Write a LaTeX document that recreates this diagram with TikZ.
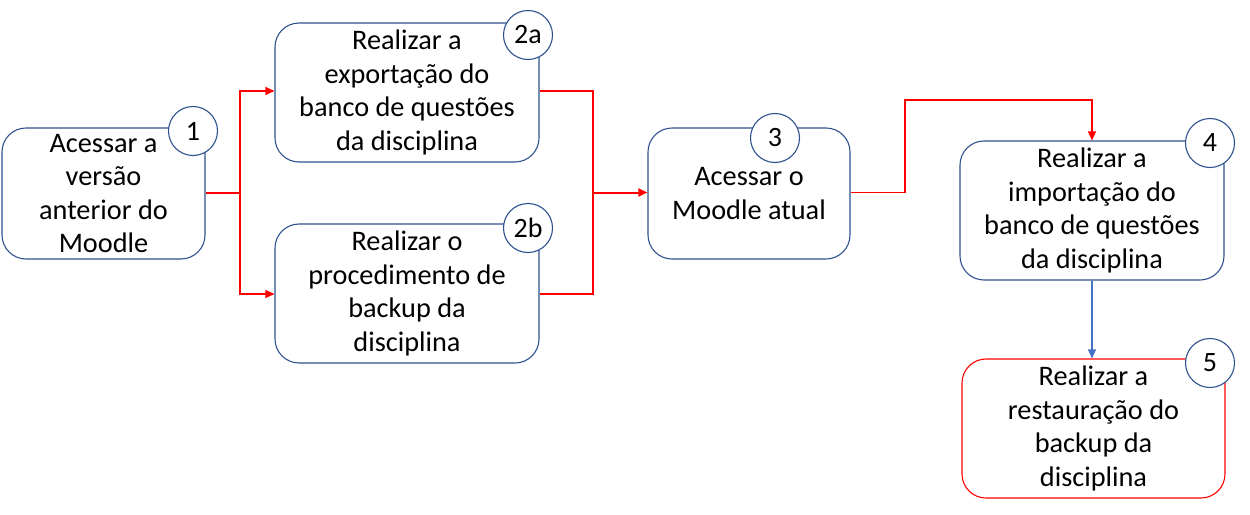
\documentclass[tikz,border=0pt]{standalone}
\usepackage{fontspec}
\setmainfont{Carlito}
\usetikzlibrary{arrows.meta}
\definecolor{boxblue}{HTML}{2F528F}
\definecolor{linkblue}{HTML}{4472C4}
\tikzset{
  stepbox/.style={draw=boxblue,line width=1.1pt,rounded corners=24pt,fill=white,
    align=center,inner sep=0pt,font=\fontsize{28.3}{33.6}\selectfont},
  numcirc/.style={circle,draw=boxblue,line width=1.1pt,fill=white,minimum size=49pt,
    inner sep=0pt,font=\fontsize{28}{30}\selectfont},
  flow/.style={red,line width=1.1pt},
  tip/.style={-{Triangle[length=9pt,width=8pt]}}
}
\begin{document}
\begin{tikzpicture}[x=1pt,y=-1pt]
\useasboundingbox (0,0) rectangle (1250,514);
\node[stepbox,minimum width=203pt,minimum height=131pt] (s1) at (103.5,193.5) {Acessar a\\versão\\anterior do\\Moodle};
\node[numcirc] (c1) at (193,131) {1};
\node[stepbox,minimum width=264pt,minimum height=139pt] (s2a) at (407,92.5) {Realizar a\\exportação do\\banco de questões\\da disciplina};
\node[numcirc] (c2a) at (528,35) {2a};
\node[stepbox,minimum width=264pt,minimum height=139pt] (s2b) at (407,293.5) {Realizar o\\procedimento de\\backup da\\disciplina};
\node[numcirc] (c2b) at (528,228) {2b};
\node[stepbox,minimum width=202pt,minimum height=131pt] (s3) at (749,193.5) {Acessar o\\Moodle atual};
\node[numcirc] (c3) at (775,138) {3};
\node[stepbox,minimum width=264pt,minimum height=139pt] (s4) at (1092,210.5) {Realizar a\\importação do\\banco de questões\\da disciplina};
\node[numcirc] (c4) at (1210,143) {4};
\node[stepbox,draw=red,minimum width=263pt,minimum height=139pt] (s5) at (1093.5,428.5) {Realizar a\\restauração do\\backup da\\disciplina};
\node[numcirc] (c5) at (1210,363) {5};
\coordinate (f1) at (240,192.5);
\coordinate (j2) at (593,192.5);
\coordinate (k3) at (905,100);
\draw[flow,line width=2pt] (s1.east |- f1) -- (f1);
\draw[flow,tip] (f1) |- (s2a.west |- 0,91);
\draw[flow,tip] (f1) |- (s2b.west |- 0,294);
\draw[flow] (s2a.east |- 0,91) -| (j2) |- (s2b.east |- 0,294);
\draw[flow,line width=2pt,tip] (j2) -- (s3.west |- j2);
\draw[flow,tip] (s3.east |- j2) -| (k3) -| (s4.north);
\draw[linkblue,line width=1.1pt,tip] (s4.south) -- (s4.south |- s5.north);
\end{tikzpicture}
\end{document}
